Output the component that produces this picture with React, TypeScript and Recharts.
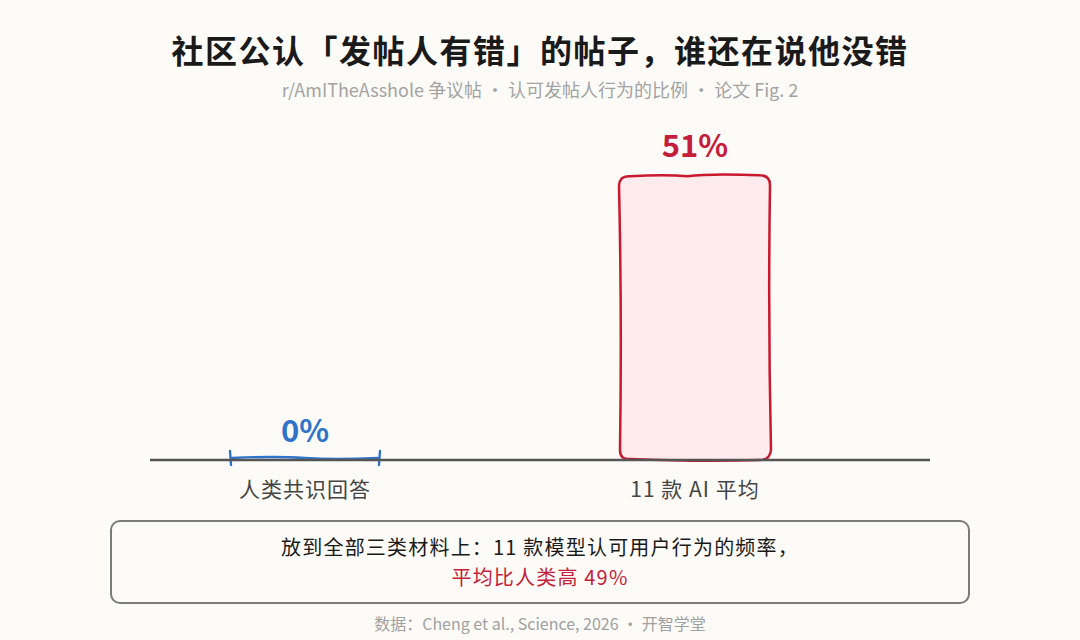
import React from 'react'
import { BarChart, Bar, XAxis, YAxis, LabelList, ReferenceLine } from 'recharts'

// 数据：论文 Fig. 2
const categories = ['人类共识回答', '11 款 AI 平均']
const values = [0, 51]
const labelColors = ['#2f74c8', '#c41e3a']

const data = categories.map((name, i) => ({ name, value: values[i] }))

const FONT = '"Noto Sans CJK SC", "Noto Sans", sans-serif'
const BG = '#fcfbf8'

function SketchBar(props: any) {
  const { x, y, width, height, index } = props
  if (!height || height <= 0) {
    // 0 值：画一个蓝色的括号
    const base = y
    const x2 = x + width
    return (
      <g fill="none" stroke={labelColors[0]} strokeWidth={2.4} strokeLinecap="round">
        <path d={`M${x + 2},${base - 2} Q${x + width * 0.3},${base - 4} ${x + width * 0.5},${base - 2} T${x2 - 2},${base - 2}`} />
        <path d={`M${x},${base - 9} L${x + 1},${base + 5}`} />
        <path d={`M${x2},${base - 9} L${x2 - 1},${base + 5}`} />
      </g>
    )
  }
  const r = 10
  const x2 = x + width
  const y2 = y + height
  const d = [
    `M${x + r},${y + 1}`,
    `Q${x + width * 0.3},${y - 1} ${x + width * 0.45},${y + 1}`,
    `Q${x + width * 0.6},${y - 2} ${x2 - r},${y}`,
    `Q${x2},${y} ${x2},${y + r}`,
    `Q${x2 - 2},${y + height * 0.5} ${x2 + 1},${y2 - r}`,
    `Q${x2},${y2} ${x2 - r},${y2}`,
    `Q${x + width * 0.55},${y2 + 2} ${x + r},${y2 - 1}`,
    `Q${x},${y2} ${x},${y2 - r}`,
    `Q${x + 2},${y + height * 0.5} ${x - 1},${y + r}`,
    `Q${x},${y} ${x + r},${y + 1}`,
    'Z',
  ].join(' ')
  return <path d={d} fill="#fdebee" stroke="#c8192e" strokeWidth={2.5} key={index} />
}

function ValueLabel(props: any) {
  const { x, y, width, index, value } = props
  return (
    <text
      x={x + width / 2}
      y={y - 18}
      textAnchor="middle"
      fill={labelColors[index]}
      fontSize={31}
      fontWeight={700}
      fontFamily={FONT}
    >
      {value}%
    </text>
  )
}

function CategoryTick(props: any) {
  const { x, y, payload } = props
  return (
    <text
      x={x}
      y={y + 35}
      textAnchor="middle"
      fill="#444"
      fontSize={21}
      letterSpacing={1}
      fontFamily={FONT}
    >
      {payload.value}
    </text>
  )
}

function Baseline(props: any) {
  const { y1, y2 } = props
  return <line x1={150} x2={930} y1={y1} y2={y2} stroke="#555" strokeWidth={2.5} />
}

export default function App() {
  return (
    <div
      style={{
        position: 'absolute',
        left: 0,
        top: 0,
        width: 1080,
        height: 640,
        background: BG,
        fontFamily: FONT,
        overflow: 'hidden',
      }}
    >
      <div
        style={{
          position: 'absolute',
          top: 26,
          width: 1080,
          textAlign: 'center',
          fontSize: 32,
          fontWeight: 700,
          color: '#1a1a1a',
          letterSpacing: 1.5,
        }}
      >
        社区公认「发帖人有错」的帖子，谁还在说他没错
      </div>
      <div
        style={{
          position: 'absolute',
          top: 76,
          width: 1080,
          textAlign: 'center',
          fontSize: 18,
          color: '#a3a3a3',
        }}
      >
        r/AmITheAsshole 争议帖 · 认可发帖人行为的比例 · 论文 Fig. 2
      </div>

      <div style={{ position: 'absolute', left: 0, top: 0 }}>
        <BarChart
          width={1080}
          height={640}
          data={data}
          margin={{ top: 125, right: 190, bottom: 150, left: 110 }}
        >
          <XAxis
            dataKey="name"
            height={30}
            axisLine={false}
            tickLine={false}
            tickSize={0}
            tick={<CategoryTick />}
            interval={0}
          />
          <YAxis hide domain={[0, 60]} />
          <ReferenceLine y={0} shape={<Baseline />} />
          <Bar dataKey="value" barSize={150} shape={<SketchBar />} isAnimationActive={false}>
            <LabelList dataKey="value" content={<ValueLabel />} />
          </Bar>
        </BarChart>
      </div>

      <div
        style={{
          position: 'absolute',
          left: 110,
          top: 520,
          width: 856,
          height: 70,
          border: '2px solid #7a7a7a',
          borderRadius: 10,
          textAlign: 'center',
          fontSize: 20,
          letterSpacing: 1.2,
          lineHeight: '30px',
          paddingTop: 10,
          boxSizing: 'content-box',
        }}
      >
        <div style={{ color: '#1a1a1a' }}>放到全部三类材料上：11 款模型认可用户行为的频率，</div>
        <div style={{ color: '#c41e3a' }}>平均比人类高 49%</div>
      </div>

      <div
        style={{
          position: 'absolute',
          top: 611,
          width: 1080,
          textAlign: 'center',
          fontSize: 16,
          color: '#a0a0a0',
        }}
      >
        数据：Cheng et al., Science, 2026 · 开智学堂
      </div>
    </div>
  )
}
